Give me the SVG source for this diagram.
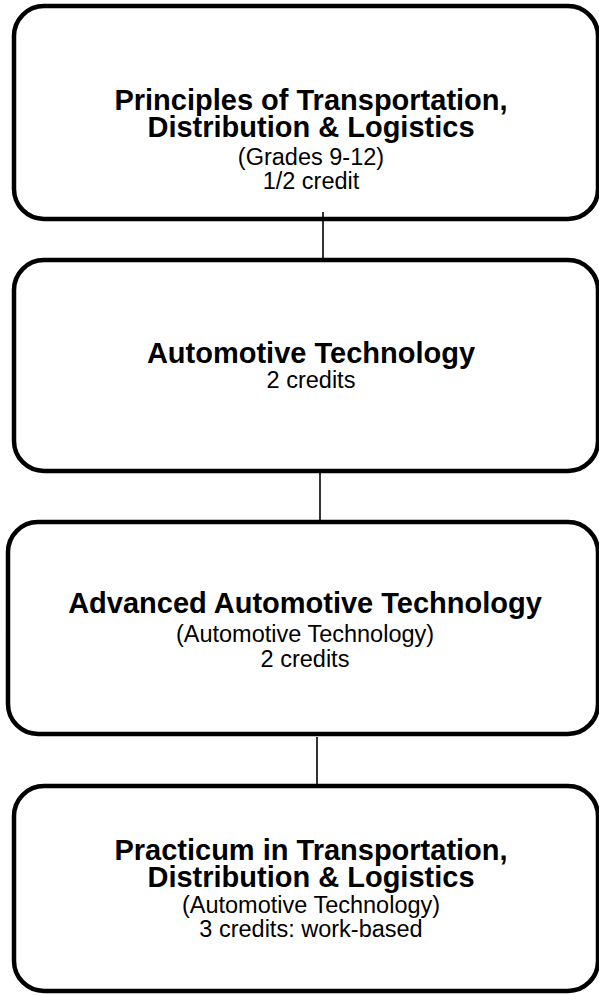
<svg xmlns="http://www.w3.org/2000/svg" width="599" height="995" viewBox="0 0 599 995">
<style>
.box{fill:#fff;stroke:#000;stroke-width:4.5}
.con{stroke:#000;stroke-width:1.6;fill:none}
text{font-family:"Liberation Sans",Arial,sans-serif;fill:#000;text-anchor:middle}
.t{font-weight:bold;font-size:29px}
.s{font-size:23.5px}
</style>
<rect width="599" height="995" fill="#fff"/>
<g id="node1">
<rect class="box" x="14" y="6" width="584" height="213" rx="30" ry="30"/>
<text class="t" x="311" y="110">Principles of Transportation,</text>
<text class="t" x="311" y="137">Distribution &amp; Logistics</text>
<text class="s" x="311" y="165">(Grades 9-12)</text>
<text class="s" x="311" y="189">1/2 credit</text>
</g>
<g id="node2">
<rect class="box" x="14" y="260" width="584" height="211" rx="30" ry="30"/>
<text class="t" x="311" y="363">Automotive Technology</text>
<text class="s" x="311" y="388">2 credits</text>
</g>
<g id="node3">
<rect class="box" x="8" y="522" width="590" height="212" rx="30" ry="30"/>
<text class="t" x="305" y="613">Advanced Automotive Technology</text>
<text class="s" x="305" y="642">(Automotive Technology)</text>
<text class="s" x="305" y="667">2 credits</text>
</g>
<g id="node4">
<rect class="box" x="14" y="786" width="584" height="205" rx="30" ry="30"/>
<text class="t" x="311" y="860">Practicum in Transportation,</text>
<text class="t" x="311" y="887">Distribution &amp; Logistics</text>
<text class="s" x="311" y="913">(Automotive Technology)</text>
<text class="s" x="311" y="937">3 credits: work-based</text>
</g>
<g id="connectors">
<line class="con" x1="323" y1="212" x2="323" y2="260"/>
<line class="con" x1="320" y1="471" x2="320" y2="522"/>
<line class="con" x1="317" y1="737" x2="317" y2="786"/>
</g>
</svg>
